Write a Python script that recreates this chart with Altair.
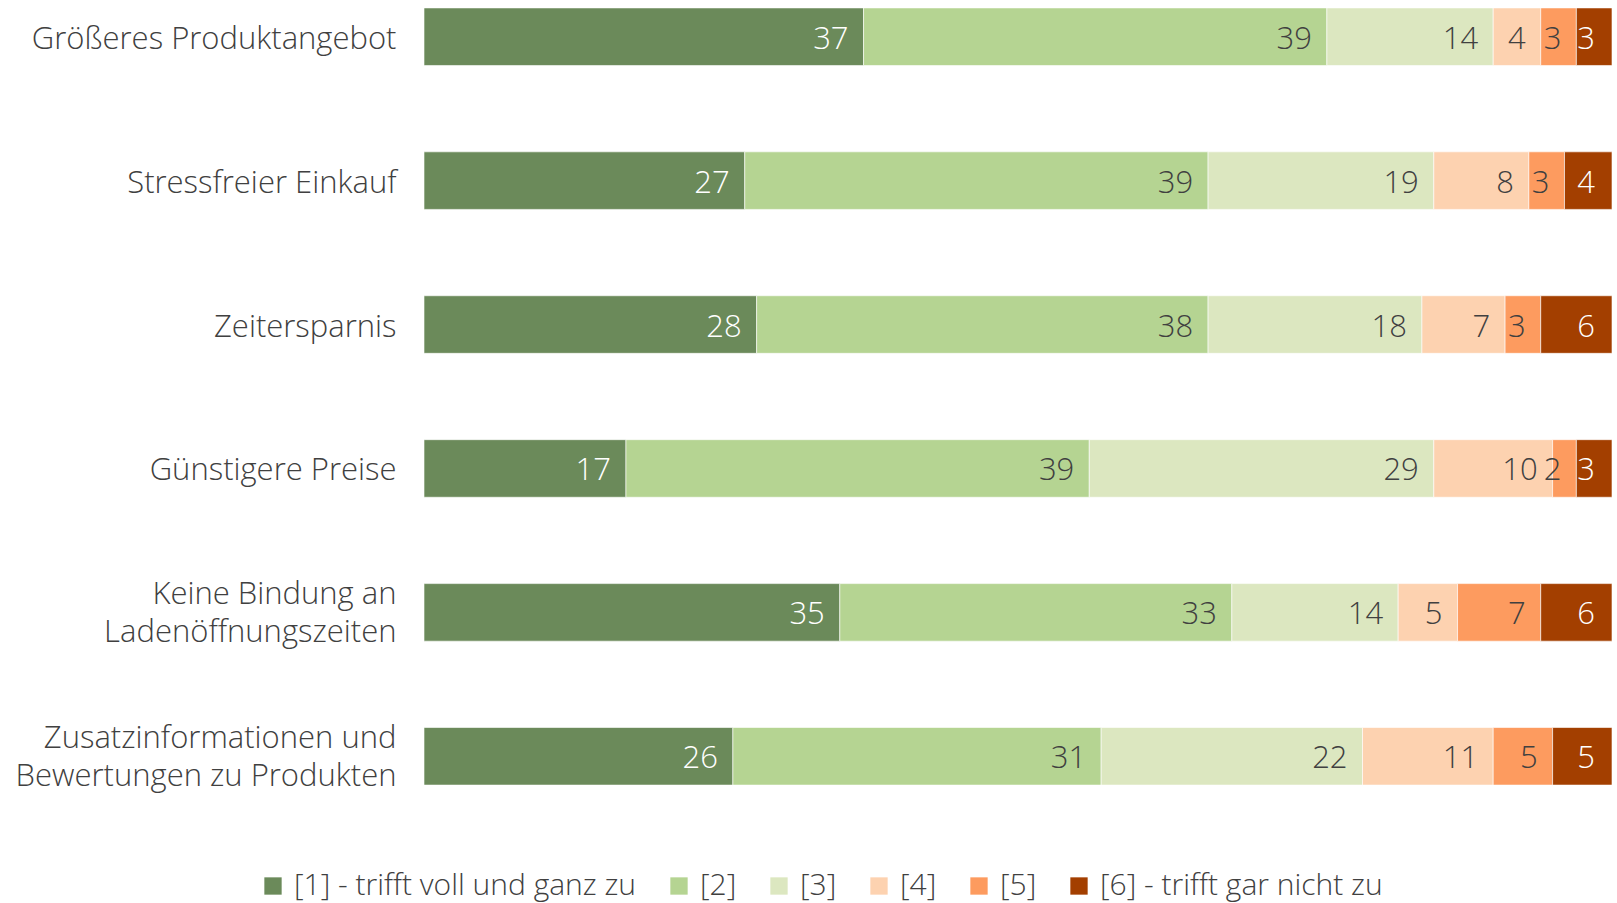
import altair as alt
import pandas as pd

categories = [
    "Größeres Produktangebot",
    "Stressfreier Einkauf",
    "Zeitersparnis",
    "Günstigere Preise",
    "Keine Bindung an|Ladenöffnungszeiten",
    "Zusatzinformationen und|Bewertungen zu Produkten",
]
levels = [
    "[1] - trifft voll und ganz zu",
    "[2]",
    "[3]",
    "[4]",
    "[5]",
    "[6] - trifft gar nicht zu",
]
colors = ["#6b8a5a", "#b5d492", "#dce7c0", "#fdd2b0", "#fd9b5f", "#a33f00"]
values = [
    [37, 39, 14, 4, 3, 3],
    [27, 39, 19, 8, 3, 4],
    [28, 38, 18, 7, 3, 6],
    [17, 39, 29, 10, 2, 3],
    [35, 33, 14, 5, 7, 6],
    [26, 31, 22, 11, 5, 5],
]

rows = []
for ci, cat in enumerate(categories):
    for li, lev in enumerate(levels):
        rows.append({"cat": cat, "level": lev, "order": li, "value": values[ci][li]})
df = pd.DataFrame(rows)

FONT = "Open Sans"
FS = 31

base = alt.Chart(df).transform_stack(
    stack="value", groupby=["cat"], as_=["start", "end"], sort=[alt.SortField("order", "ascending")]
)

y_scale = alt.Scale(paddingInner=0.6, paddingOuter=0.055)
x_scale = alt.Scale(domain=[0, 100], nice=False, zero=True)

y_enc = alt.Y(
    "cat:N",
    sort=categories,
    title=None,
    scale=y_scale,
    axis=alt.Axis(
        domain=False, ticks=False, grid=False, labelFontSize=FS, labelFont=FONT, labelFontWeight=300,
        labelColor="#404040", labelPadding=28, labelLimit=500,
        labelExpr="split(datum.value, '|')", labelLineHeight=38,
        labelOffset={"condition": {"test": "indexof(datum.value, '|') >= 0", "value": -17}, "value": 3},
    ),
)

bars = base.mark_bar(stroke="white", strokeWidth=1, strokeOpacity=0.6).encode(
    y=y_enc,
    x=alt.X("start:Q", scale=x_scale, axis=None),
    x2="end:Q",
    color=alt.Color(
        "level:N",
        scale=alt.Scale(domain=levels, range=colors),
        sort=levels,
        legend=alt.Legend(
            title=None, orient="none", direction="horizontal", legendX=-166, legendY=871,
            symbolType="square", symbolSize=300, symbolStrokeWidth=0, labelFontSize=30,
            labelFont=FONT, labelFontWeight=300, labelColor="#404040", labelLimit=600,
            columnPadding=27, labelOffset=6, columns=6,
        ),
    ),
    order=alt.Order("order:Q"),
)


def label_layer(flt, dx):
    return base.transform_filter(flt).mark_text(
        align="right", baseline="middle", dx=dx, dy=3, fontSize=FS, font=FONT, fontWeight=300
    ).encode(
        y=alt.Y("cat:N", sort=categories, title=None),
        x=alt.X("end:Q", scale=x_scale, axis=None),
        text="value:Q",
        color=alt.condition(
            "datum.order == 0 || datum.order == 5", alt.value("white"), alt.value("#404040")
        ),
    )


labels_inner = label_layer("datum.order < 5", -15)
labels_last = label_layer("datum.order == 5", -17)

chart = (
    alt.layer(bars, labels_inner, labels_last)
    .properties(
        width=1188, height=793,
        autosize=alt.AutoSizeParams(type="none"),
        padding={"left": 424, "top": 0, "right": 5, "bottom": 110},
    )
    .configure(font=FONT)
    .configure_view(strokeWidth=0, stroke="transparent")
    .configure_axis(grid=False)
)

chart.save("out.html", embed_options={"renderer": "svg", "actions": False})
